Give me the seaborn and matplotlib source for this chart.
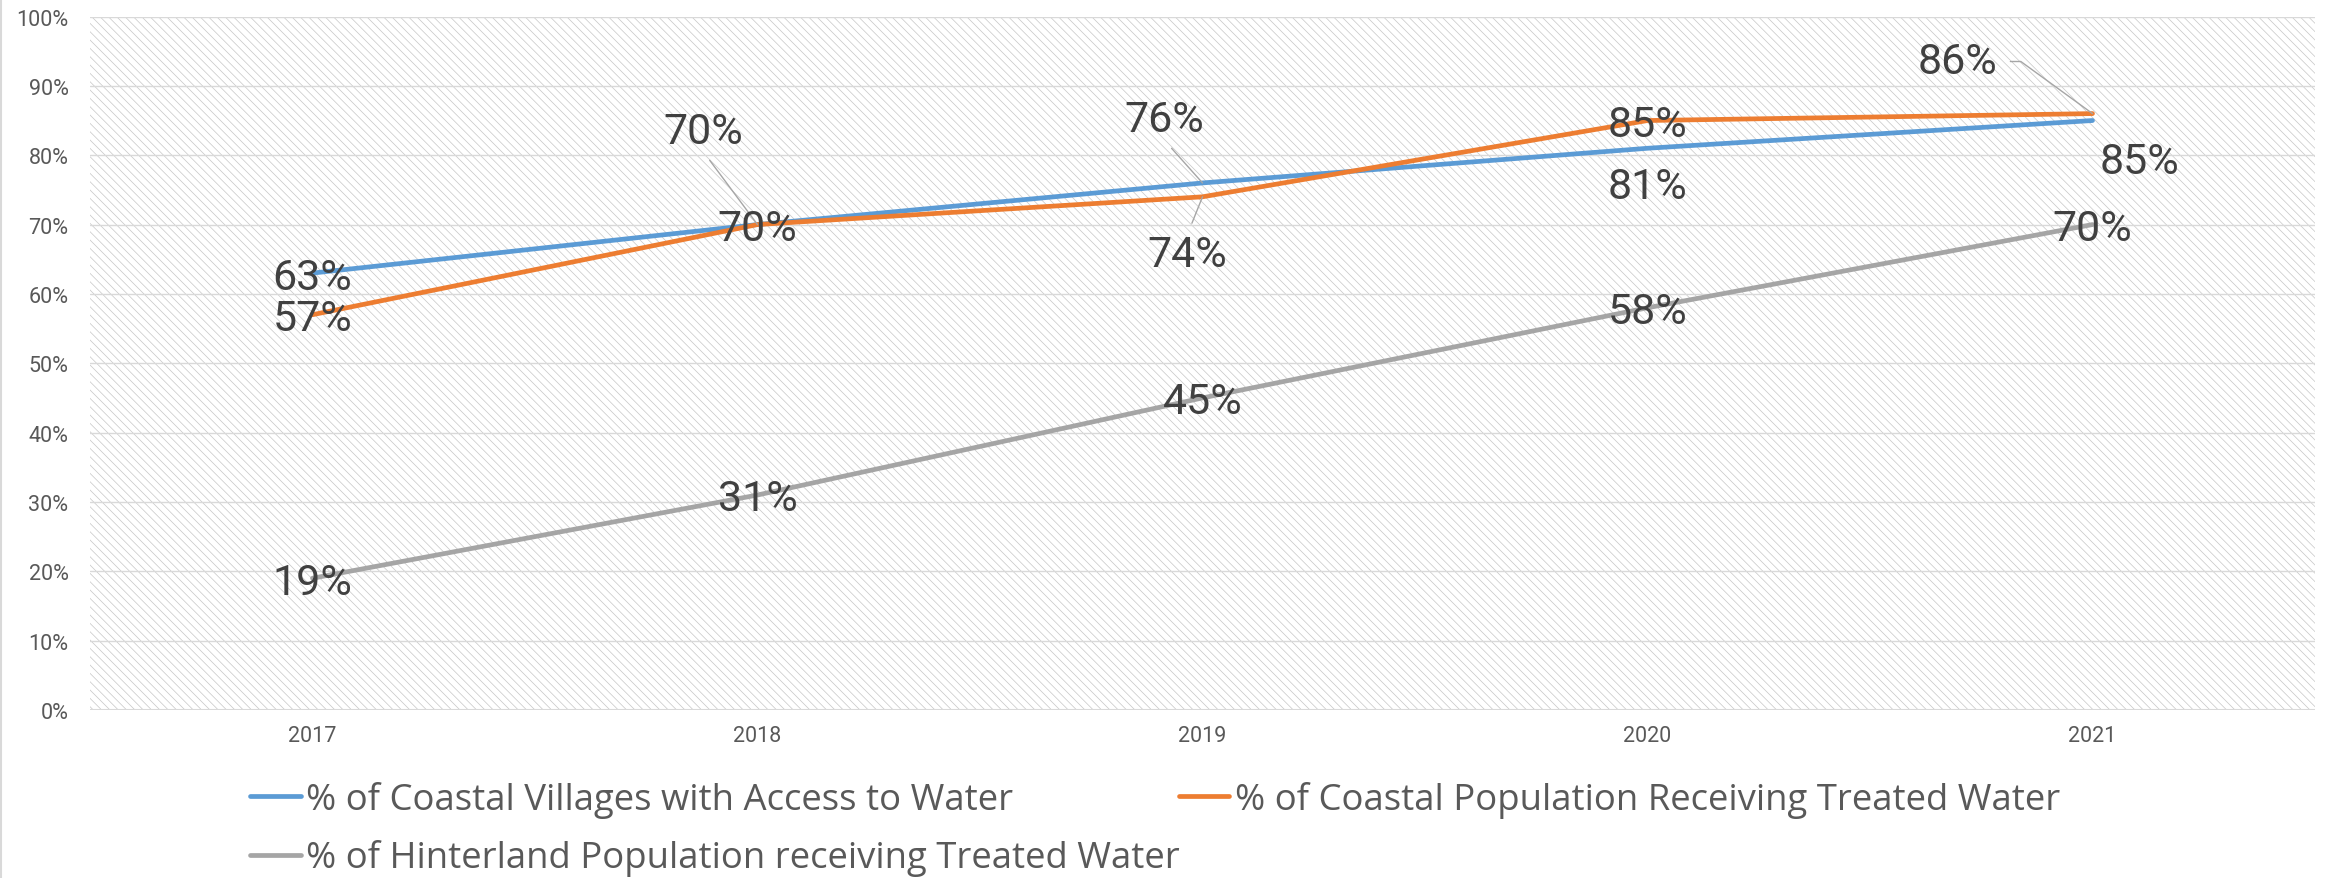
import matplotlib
matplotlib.use("Agg")
import matplotlib.pyplot as plt
from matplotlib import font_manager
from matplotlib.lines import Line2D
from matplotlib.ticker import PercentFormatter, MultipleLocator
import pandas as pd
import seaborn as sns

# ---- data -------------------------------------------------------------
years = ["2017", "2018", "2019", "2020", "2021"]
coastal_villages = [63, 70, 76, 81, 85]
coastal_population = [57, 70, 74, 85, 86]
hinterland_population = [19, 31, 45, 58, 70]

series_names = [
    "% of Coastal Villages with Access to Water",
    "% of Coastal Population Receiving Treated Water",
    "% of Hinterland Population receiving Treated Water",
]
series_colors = ["#5B9BD5", "#ED7D31", "#A5A5A5"]

# label offsets (pixels) from each point
label_offsets = {
    0: [(0, 0), (-54, 97), (-38, 67), (0, -34), (47, -37)],
    1: [(0, 0), (0, 0), (-15, -54), (0, 0), (-135, 56)],
    2: [(0, 0), (0, 0), (0, 0), (0, 0), (0, 0)],
}
# labels that get a leader line: (series, year index) -> (relpos, shrinkA, connection)
leaders = {
    (0, 1): ((0.5, 0.0), 4.5, "arc3"),
    (0, 2): ((0.5, 0.0), 4.5, "arc3"),
    (1, 2): ((0.5, 1.0), 6.0, "arc3"),
    (1, 4): ((1.0, 0.5), 7.0, "angle,angleA=0,angleB=144,rad=0"),
}

# ---- style ------------------------------------------------------------
sns.set_style("white")
names = {f.name for f in font_manager.fontManager.ttflist}
narrow = "Liberation Sans Narrow" if "Liberation Sans Narrow" in names else "Roboto"
label_fs = 33 if narrow == "Liberation Sans Narrow" else 31
tick_fs = 17.5 if narrow == "Liberation Sans Narrow" else 15.5
legend_font = "Open Sans"
plt.rcParams["font.family"] = [narrow, "DejaVu Sans"]
plt.rcParams["hatch.linewidth"] = 0.5
plt.rcParams["hatch.color"] = "#c6c6c6"

df = pd.DataFrame({
    "year": years * 3,
    "value": coastal_villages + coastal_population + hinterland_population,
    "series": sum([[n] * len(years) for n in series_names], []),
})

fig, ax = plt.subplots(figsize=(23.31, 8.79), dpi=100)
fig.subplots_adjust(left=0.03861, right=0.99314, top=0.98009, bottom=0.19113)

# hatched plot-area background
ax.patch.set_facecolor("white")
ax.patch.set_hatch("\\\\\\\\")
ax.patch.set_edgecolor("#c6c6c6")

sns.lineplot(data=df, x="year", y="value", hue="series", hue_order=series_names,
             palette=series_colors, linewidth=3.4, legend=False, sort=False, ax=ax,
             solid_capstyle="round", solid_joinstyle="round")

ax.set_xlim(-0.5, len(years) - 0.5)
ax.set_ylim(0, 100)
ax.yaxis.set_major_locator(MultipleLocator(10))
ax.yaxis.set_major_formatter(PercentFormatter(100, decimals=0))
ax.grid(axis="y", color="#d9d9d9", linewidth=1.0)
ax.grid(axis="x", visible=False)
for s in ax.spines.values():
    s.set_visible(False)
ax.axhline(0, color="#d9d9d9", linewidth=1.5, zorder=1.5)
ax.set_xlabel("")
ax.set_ylabel("")
ax.tick_params(axis="y", length=0, pad=15.5, labelsize=tick_fs, labelcolor="#595959")
ax.tick_params(axis="x", length=0, pad=11, labelsize=tick_fs, labelcolor="#595959")

# ---- data labels ------------------------------------------------------
all_values = [coastal_villages, coastal_population, hinterland_population]
fs_px = label_fs * 100 / 72.0
half_cap = 0.716 * fs_px / 2
for si, vals in enumerate(all_values):
    for i, v in enumerate(vals):
        dx, dy = label_offsets[si][i]
        kw = {}
        if (si, i) in leaders:
            relpos, shrink, conn = leaders[(si, i)]
            kw["arrowprops"] = dict(arrowstyle="-", color="#a6a6a6", lw=1.0,
                                    relpos=relpos, shrinkA=shrink, shrinkB=0,
                                    connectionstyle=conn)
        ax.annotate(f"{v}%", xy=(i, v), xytext=(dx, dy - half_cap),
                    textcoords="offset pixels", ha="center", va="baseline",
                    fontsize=label_fs, color="#404040", zorder=5, **kw)

# ---- legend -----------------------------------------------------------
lines = ax.get_lines()[:3]
handles = [Line2D([], [], color=ln.get_color(), linewidth=3.4, solid_capstyle="round")
           for ln in lines]
legend_pos = [(0.1073, 0.0891), (0.5058, 0.0891), (0.1073, 0.0228)]
legend_kw = dict(loc="center left", frameon=False, borderpad=0, borderaxespad=0,
                 handlelength=1.38, handletextpad=0.15, labelcolor="#595959",
                 prop={"family": [legend_font, "DejaVu Sans"], "size": 26.3})
for h, name, pos in zip(handles, series_names, legend_pos):
    fig.legend([h], [name], bbox_to_anchor=pos, **legend_kw)

# chart frame edge
fig.add_artist(Line2D([0.0003, 0.0003], [0, 1], transform=fig.transFigure,
                      color="#d9d9d9", linewidth=1.5))

fig.savefig("out.png", dpi=100)
